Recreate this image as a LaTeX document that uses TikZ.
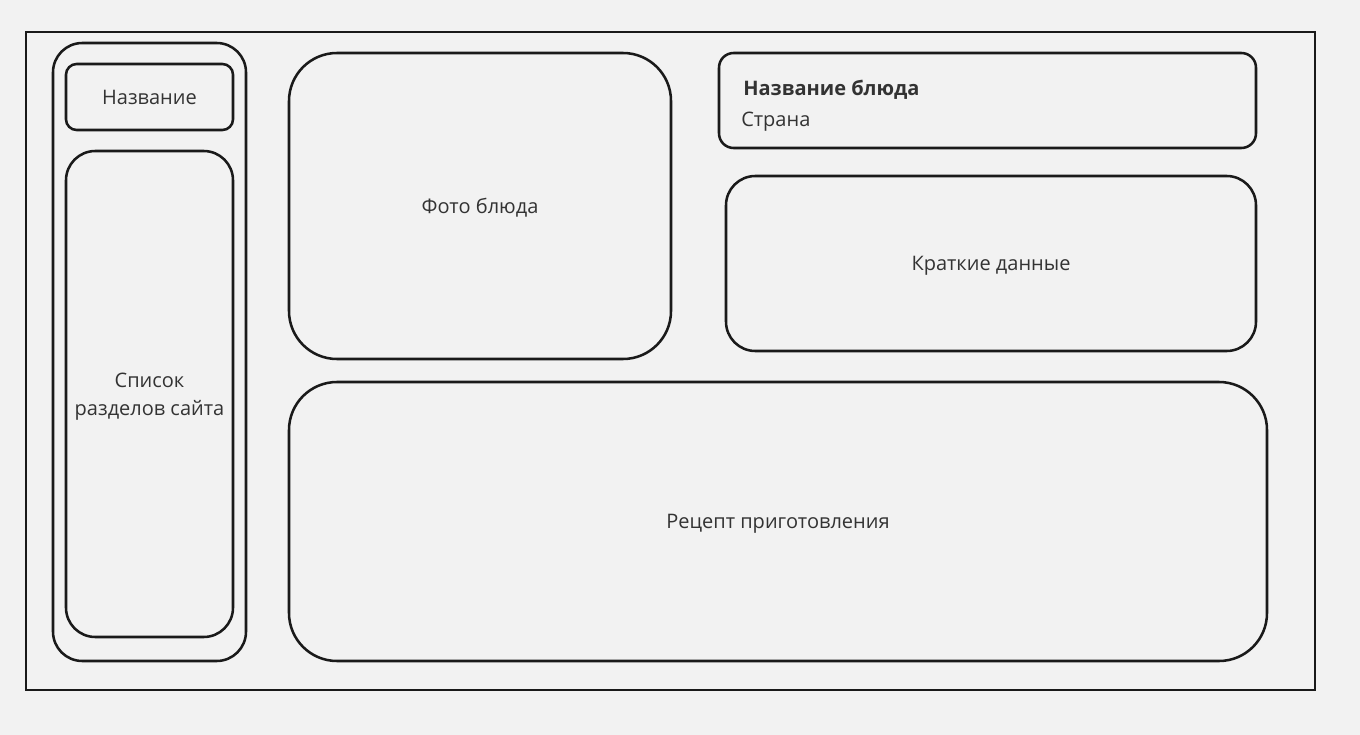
\documentclass[tikz,border=0pt]{standalone}
\usepackage{fontspec}
\setmainfont{Open Sans}
\usepackage{xcolor}
\usetikzlibrary{positioning}
\definecolor{pagebg}{HTML}{F2F2F2}
\definecolor{lineclr}{HTML}{1A1A1A}
\definecolor{txtclr}{HTML}{333333}

\begin{document}
\begin{tikzpicture}[x=.75pt,y=-.75pt,
  block/.style={draw=lineclr,line width=1.9pt,text=txtclr,font=\fontsize{15}{21}\selectfont,align=center,inner sep=0pt,text depth=0pt}]
\fill[pagebg] (0,0) rectangle (1360,735);
\useasboundingbox (0,0) rectangle (1360,735);
\draw[lineclr,line width=2.2pt] (26,32) rectangle (1315,690);
% left column
\node[block,rounded corners=22pt,minimum width=193*.75pt,minimum height=618*.75pt] (sidebar) at (149.5,352) {};
\node[block,rounded corners=8pt,minimum width=167*.75pt,minimum height=66*.75pt] (sitename) at (149.5,97) {Название};
\node[block,rounded corners=22pt,minimum width=167*.75pt,minimum height=486*.75pt] (sections) at (149.5,394) {Список\\разделов сайта};
% main area
\node[block,rounded corners=36pt,minimum width=382*.75pt,minimum height=306*.75pt] (photo) at (480,206) {Фото блюда};
\node[block,rounded corners=11pt,minimum width=537*.75pt,minimum height=95*.75pt] (header) at (987.5,100.5) {};
\node[text=txtclr,font=\fontsize{15}{21}\selectfont\bfseries,anchor=west,inner sep=0pt] (dishname) at (743,90) {Название блюда};
\node[text=txtclr,font=\fontsize{15}{21}\selectfont,anchor=west,inner sep=0pt] (country) at (741,121.5) {Страна};
\node[block,rounded corners=22pt,minimum width=530*.75pt,minimum height=175*.75pt] (brief) at (991,263.5) {Краткие данные};
\node[block,rounded corners=36pt,minimum width=978*.75pt,minimum height=279*.75pt] (recipe) at (778,521.5) {Рецепт приготовления};
\end{tikzpicture}
\end{document}
